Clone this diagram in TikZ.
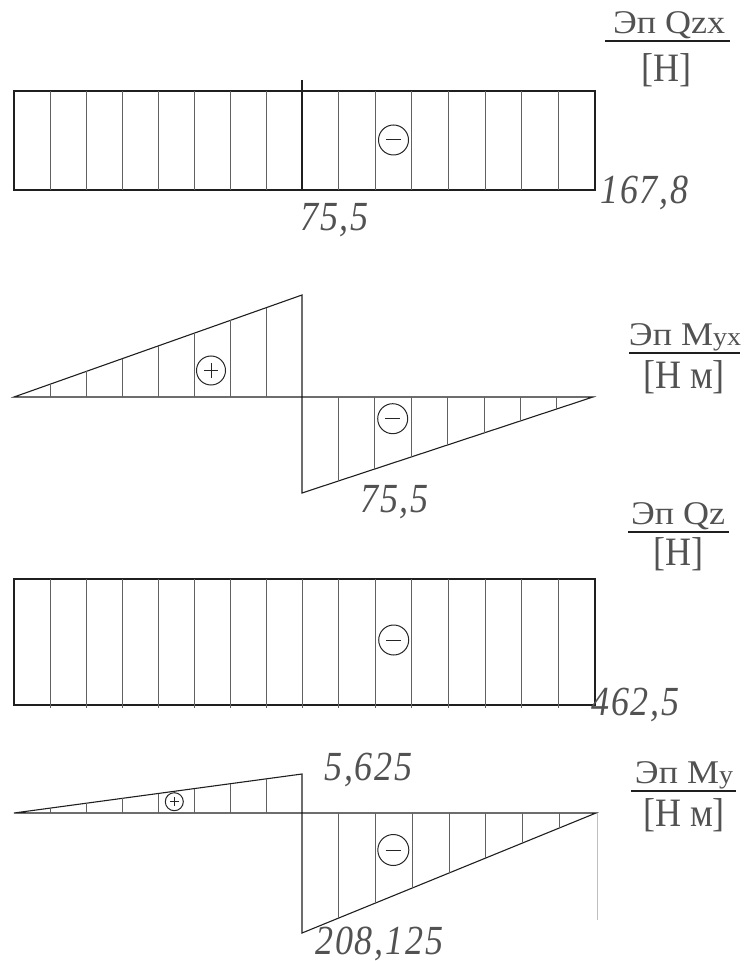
\documentclass[tikz,border=0pt]{standalone}
\usepackage{graphicx}
\usepackage{fontspec}
\setmainfont{Liberation Serif}
\newfontfamily\numfont[LetterSpace=5]{Liberation Serif}
\newcommand{\eptitle}[1]{\scalebox{1}[0.92]{#1}}
\newcommand{\epunit}[1]{\scalebox{1}[1.12]{#1}}
\newcommand{\epvalue}[1]{\scalebox{1}[1.15]{#1}}

\begin{document}
\begin{tikzpicture}[x=0.5pt, y=-0.5pt,
    epline/.style={black!88, line width=0.55pt},
    hatch/.style={black!62, line width=0.5pt},
    lbl/.style={text=black!68, font=\fontsize{18}{20}\selectfont, inner sep=0pt, anchor=base},
    num/.style={text=black!68, font=\fontsize{18}{20}\selectfont\numfont\itshape, inner sep=0pt, anchor=base west},
    sgn/.style={circle, draw=black!85, fill=white, line width=0.5pt, minimum size=#1*0.5pt, inner sep=0pt},
    signminus/.style={sgn=#1, path picture={\draw[line width=0.5pt] (path picture bounding box.center) ++(-#1/4,0) -- ++(#1/2,0);}},
    signplus/.style={sgn=#1, path picture={\draw[line width=0.5pt] (path picture bounding box.center) ++(-#1/4,0) -- ++(#1/2,0)
      (path picture bounding box.center) ++(0,-#1/4) -- ++(0,#1/2);}}]
  \useasboundingbox (0,0) rectangle (745,961);

  % Qzx
  \draw[epline] (14,91) rectangle (595,190);
  \foreach \i in {1,...,7} {
    \draw[hatch] (14+36*\i,91) -- (14+36*\i,190);
    \draw[hatch] (302+36.6*\i,91) -- (302+36.6*\i,190);
  }
  \draw[epline] (302,80) -- (302,190);
  \node[signminus=30] (qzxsign) at (393.5,140) {};
  \node[num] (qzxright) at (600,204) {\epvalue{167,8}};
  \node[num] (qzxmid) at (300,231) {\epvalue{75,5}};
  \node[lbl] (qzxname) at (669,34) {\eptitle{Эп Qzx}};
  \draw[epline] (605,41) -- (730,41);
  \node[lbl] (qzxunit) at (666,82) {\epunit{[Н]}};

  % Myx
  \draw[epline] (14,397) -- (302,295) -- (302,493) -- (593,397) -- cycle;
  \foreach \i in {1,...,7} {
    \draw[hatch] (14+36*\i,397) -- (14+36*\i,{397-102*\i/8});
    \draw[hatch] (302+36.4*\i,397) -- (302+36.4*\i,{493-96*\i/8});
  }
  \node[signplus=29] (myxplus) at (211,370.5) {};
  \node[signminus=30] (myxminus) at (392.7,418.7) {};
  \node[num] (myxmin) at (360,512) {\epvalue{75,5}};
  \node[lbl] (myxname) at (685,346) {\eptitle{Эп M{\fontsize{14}{14}\selectfont yx}}};
  \draw[epline] (629,353) -- (740,353);
  \node[lbl] (myxunit) at (684,389) {\epunit{[Н м]}};

  % Qz
  \draw[epline] (14,579) rectangle (595,705);
  \foreach \i in {1,...,7} {
    \draw[hatch] (14+36*\i,579) -- (14+36*\i,708);
    \draw[hatch] (302+36.6*\i,579) -- (302+36.6*\i,708);
  }
  \draw[hatch] (302,579) -- (302,708);
  \node[signminus=30] (qzsign) at (393.7,640) {};
  \node[num] (qzright) at (591,715) {\epvalue{462,5}};
  \node[lbl] (qzname) at (678,524) {\eptitle{Эп Qz}};
  \draw[epline] (628,532) -- (729,532);
  \node[lbl] (qzunit) at (678,565) {\epunit{[Н]}};

  % My
  \draw[epline] (14,813) -- (302,774) -- (302,933) -- (596,813) -- cycle;
  \foreach \i in {1,...,7} {
    \draw[hatch] (14+36*\i,813) -- (14+36*\i,{813-39*\i/8});
    \draw[hatch] (302+36.75*\i,813) -- (302+36.75*\i,{933-120*\i/8});
  }
  \draw[black!25, line width=0.5pt] (597,813) -- (597,920);
  \node[signplus=18] (myplus) at (174.3,801.7) {};
  \node[signminus=31] (myminus) at (393.3,850) {};
  \node[num] (mymax) at (324,780) {\epvalue{5,625}};
  \node[num] (mymin) at (315,954) {\epvalue{208,125}};
  \node[lbl] (myname) at (684,783) {\eptitle{Эп M{\fontsize{14}{14}\selectfont y}}};
  \draw[epline] (631,791) -- (736,791);
  \node[lbl] (myunit) at (684,826) {\epunit{[Н м]}};
\end{tikzpicture}
\end{document}
